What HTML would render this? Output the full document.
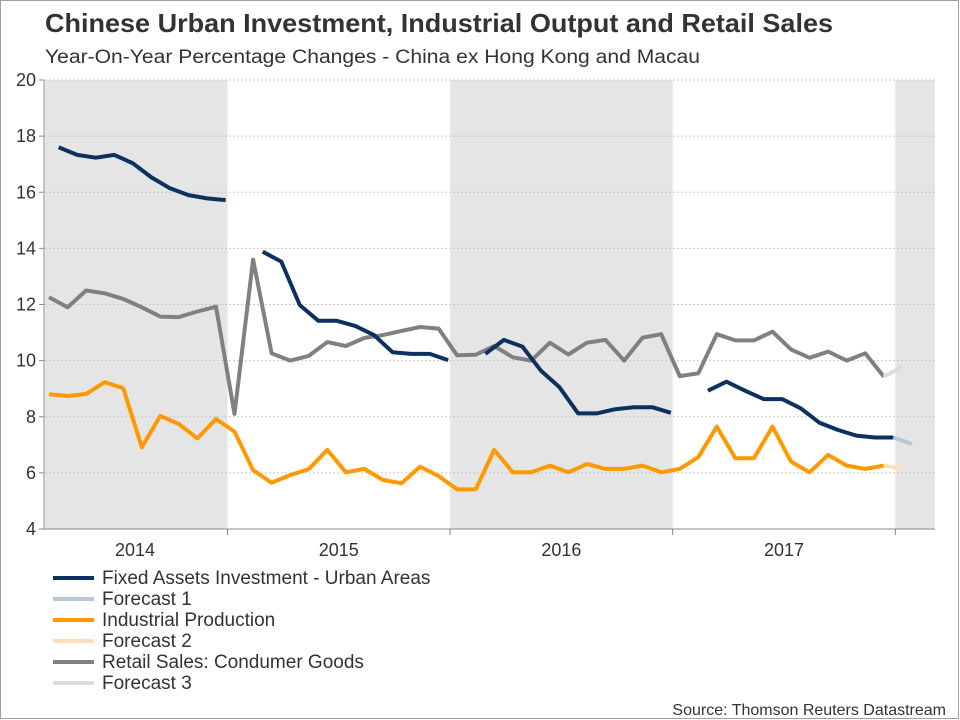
<!DOCTYPE html>
<html><head><meta charset="utf-8">
<style>
html,body{margin:0;padding:0;background:#fff;}
svg{display:block;font-family:"Liberation Sans",Arial,sans-serif;}
</style></head>
<body>
<svg id="chart" width="960" height="720" viewBox="0 0 960 720">
<rect x="0.5" y="0.5" width="958" height="718" fill="#fff" stroke="#a0a0a0"/>
<text x="45" y="32" font-size="26" font-weight="bold" fill="#333" textLength="788" lengthAdjust="spacingAndGlyphs">Chinese Urban Investment, Industrial Output and Retail Sales</text>
<text x="45" y="63" font-size="19" fill="#333" textLength="655" lengthAdjust="spacingAndGlyphs">Year-On-Year Percentage Changes - China ex Hong Kong and Macau</text>
<g id="bands"></g><g id="grid"></g><g id="axes"></g><g id="series"></g>
<g id="legend"></g>
<text x="946" y="715" font-size="16" fill="#333" text-anchor="end">Source: Thomson Reuters Datastream</text>
</svg>
<script>
const yTicks=[4,6,8,10,12,14,16,18,20];
const years=['2014','2015','2016','2017'];
const yearStarts=[-12,0,12,24,36];
const fai=[17.6,17.33,17.23,17.33,17.03,16.53,16.14,15.9,15.78,15.72,null,13.88,13.53,11.98,11.42,11.42,11.23,10.91,10.3,10.24,10.24,10.02,null,10.24,10.74,10.5,9.64,9.05,8.12,8.12,8.27,8.34,8.34,8.14,null,8.93,9.25,8.93,8.63,8.63,8.3,7.79,7.53,7.33,7.26,7.26];
const faiForecast=[7.26,7.03];
const ip=[8.8,8.74,8.81,9.23,9.02,6.91,8.03,7.74,7.23,7.92,7.47,6.1,5.65,5.92,6.13,6.82,6.02,6.14,5.75,5.63,6.22,5.89,5.41,5.41,6.82,6.02,6.02,6.26,6.02,6.32,6.14,6.14,6.26,6.02,6.14,6.56,7.65,6.52,6.52,7.65,6.4,6.02,6.64,6.26,6.14,6.26];
const ipForecast=[6.26,6.14];
const rs=[12.26,11.9,12.5,12.4,12.2,11.9,11.57,11.55,11.75,11.92,8.1,13.6,10.26,10.0,10.17,10.66,10.52,10.81,10.91,11.06,11.2,11.14,10.19,10.21,10.52,10.12,10.0,10.64,10.22,10.64,10.74,10.0,10.82,10.94,9.45,9.55,10.94,10.72,10.72,11.03,10.4,10.1,10.32,10.0,10.26,9.43];
const rsForecast=[9.43,9.78];
const legendLabels=['Fixed Assets Investment - Urban Areas','Forecast 1','Industrial Production','Forecast 2','Retail Sales: Condumer Goods','Forecast 3'];

const NS='http://www.w3.org/2000/svg';
const L=45,R=935,T=80,B=529;
const y=v=>B-(v-4)*(B-T)/16;
const xm=m=>227.5+18.55*m;
function mk(tag,attrs,parent){const e=document.createElementNS(NS,tag);for(const k in attrs)e.setAttribute(k,attrs[k]);parent.appendChild(e);return e;}
const bands=document.getElementById('bands'),grid=document.getElementById('grid'),axes=document.getElementById('axes'),series=document.getElementById('series'),legend=document.getElementById('legend');
[[L,xm(0)],[xm(12),xm(24)],[xm(36),R]].forEach((b,i)=>{
 const r=mk('rect',{x:b[0],y:T,width:b[1]-b[0],height:B-T,fill:'#e5e5e5'},bands);
 
 
});
yTicks.forEach(v=>{
 const g=mk('line',{x1:L,x2:R,y1:y(v),y2:y(v),stroke:'#c8c8c8','stroke-dasharray':'2,2'},grid);
 
 
 mk('line',{x1:39,x2:44,y1:y(v),y2:y(v),stroke:'#888'},axes);
 const t=mk('text',{x:36,y:y(v)+6,'font-size':18,'text-anchor':'end',fill:'#333'},axes);
 t.textContent=v;
 
 
});
mk('line',{x1:44,x2:44,y1:T,y2:B,stroke:'#888'},axes);
mk('line',{x1:44,x2:R,y1:B,y2:B,stroke:'#888'},axes);
yearStarts.slice(1).forEach(m=>mk('line',{x1:xm(m),x2:xm(m),y1:B,y2:B+6,stroke:'#888'},axes));
years.forEach((yr,i)=>{
 const a=Math.max(L,xm(yearStarts[i])),b=Math.min(R,xm(yearStarts[i+1]));
 const cx=i===0?135:(a+b)/2;
 const t=mk('text',{x:cx,y:556,'font-size':18,'text-anchor':'middle',fill:'#333'},axes);
 t.textContent=yr;
 
 
});
function draw(vals,m0,color,name,w){
 let d='',pen=false;
 vals.forEach((v,i)=>{if(v==null){pen=false;return;}d+=(pen?'L':'M')+xm(m0+i).toFixed(1)+','+y(v).toFixed(1);pen=true;});
 const p=mk('path',{d:d,fill:'none',stroke:color,'stroke-width':w||4,'stroke-linejoin':'round'},series);
 
 
}
const m0fai=-9.1,m0oth=-9.62;
draw(rs,m0oth,'#808080','retail-sales-line');
draw(rsForecast,m0oth+45,'#dcdcdc','forecast-3-line');
draw(ip,m0oth,'#ff9900','industrial-production-line');
draw(ipForecast,m0oth+45,'#fde0b8','forecast-2-line');
draw(fai,m0fai,'#0a3160','fixed-assets-investment-line');
draw(faiForecast,m0fai+45,'#b8c6d6','forecast-1-line');
const legendColors=['#0a3160','#b8c6d6','#ff9900','#fde0b8','#808080','#dcdcdc'];
legendLabels.forEach((lab,i)=>{
 const yy=578+i*21;
 const g=mk('g',{},legend);
 
 
 mk('line',{x1:53,x2:94,y1:yy,y2:yy,stroke:legendColors[i],'stroke-width':4},g);
 const t=mk('text',{x:102,y:yy+6,'font-size':19,fill:'#333'},g);
 t.textContent=lab;
});
</script>
</body></html>
